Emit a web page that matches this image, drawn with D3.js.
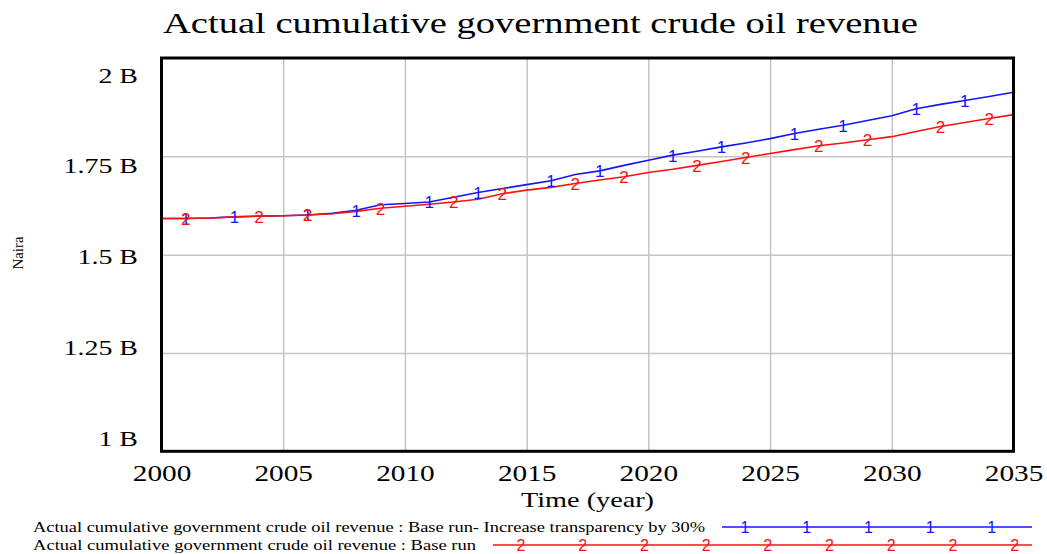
<!DOCTYPE html>
<html>
<head>
<meta charset="utf-8">
<script src="https://cdn.jsdelivr.net/npm/d3@7"></script>
<style>
  body { margin: 0; background: #fff; }
  svg { display: block; }
</style>
</head>
<body>
<svg id="chart" width="1047" height="554"></svg>
<script>
// Simulation years
const years = [2000, 2001, 2002, 2003, 2004, 2005, 2006, 2007, 2008, 2009,
               2010, 2011, 2012, 2013, 2014, 2015, 2016, 2017, 2018, 2019,
               2020, 2021, 2022, 2023, 2024, 2025, 2026, 2027, 2028, 2029,
               2030, 2031, 2032, 2033, 2034, 2035];

// Actual cumulative government crude oil revenue (billion naira)
const transparencyRun = [1.592, 1.592, 1.593, 1.596, 1.598, 1.599, 1.601, 1.605, 1.613, 1.627,
                         1.630, 1.634, 1.646, 1.658, 1.668, 1.678, 1.688, 1.704, 1.713, 1.727,
                         1.740, 1.753, 1.763, 1.774, 1.784, 1.795, 1.808, 1.819, 1.829, 1.841,
                         1.853, 1.871, 1.882, 1.892, 1.902, 1.913];
const baseRun = [1.592, 1.592, 1.593, 1.596, 1.598, 1.599, 1.601, 1.604, 1.610, 1.618,
                 1.623, 1.628, 1.634, 1.641, 1.655, 1.664, 1.671, 1.681, 1.690, 1.698,
                 1.709, 1.717, 1.727, 1.737, 1.747, 1.757, 1.767, 1.777, 1.784, 1.792,
                 1.800, 1.813, 1.826, 1.836, 1.846, 1.856];

// Years where each run carries its number marker
const transparencyMarkerYears = [2001, 2003, 2006, 2008, 2011, 2013, 2016, 2018, 2021, 2023, 2026, 2028, 2031, 2033];
const baseMarkerYears = [2001, 2004, 2006, 2009, 2012, 2014, 2017, 2019, 2022, 2024, 2027, 2029, 2032, 2034];

const xTicks = [2000, 2005, 2010, 2015, 2020, 2025, 2030, 2035];
const yTicks = [1, 1.25, 1.5, 1.75, 2];
const yTickLabels = ["1 B", "1.25 B", "1.5 B", "1.75 B", "2 B"];

const titleText = "Actual cumulative government crude oil revenue";
const xTitle = "Time (year)";
const yTitle = "Naira";
const seriesNames = [
  "Actual cumulative government crude oil revenue : Base run- Increase transparency by 30%",
  "Actual cumulative government crude oil revenue : Base run"
];
const seriesMarks = ["1", "2"];
const seriesColors = ["#1414ff", "#ff1010"];

const serif = "'Liberation Serif', 'Times New Roman', serif";
const sans = "'Liberation Sans', Arial, sans-serif";

const svg = d3.select("#chart");

const plot = { left: 161.5, right: 1013.5, top: 58, bottom: 451.3 };
const x = d3.scaleLinear().domain([2000, 2035]).range([plot.left, plot.right]);
const y = d3.scaleLinear().domain([1, 2]).range([plot.bottom, plot.top]);
// value labels on the left are spread slightly inside the frame
const yLabel = d3.scaleLinear().domain([1, 2]).range([438, 75]);

// widen text horizontally by factor k
function stretch(sel, k) {
  sel.each(function () {
    const w = this.getComputedTextLength();
    d3.select(this).attr("textLength", w * k).attr("lengthAdjust", "spacingAndGlyphs");
  });
}
function fitWidth(sel, w) {
  sel.attr("textLength", w).attr("lengthAdjust", "spacingAndGlyphs");
}

// grid
const gridX = svg.append("g")
  .attr("transform", `translate(0,${plot.bottom})`)
  .call(d3.axisBottom(x).tickValues(xTicks.slice(1, -1)).tickSize(-(plot.bottom - plot.top)).tickFormat(""));
const gridY = svg.append("g")
  .attr("transform", `translate(${plot.left},0)`)
  .call(d3.axisLeft(y).tickValues(yTicks.slice(1, -1)).tickSize(-(plot.right - plot.left)).tickFormat(""));
[gridX, gridY].forEach(g => {
  g.select(".domain").remove();
  g.selectAll("line").attr("stroke", "#c4c4c4").attr("stroke-width", 1.5);
});

// series
const runs = [transparencyRun, baseRun];
const markerYears = [transparencyMarkerYears, baseMarkerYears];
const line = d3.line().x((d, i) => x(years[i])).y(d => y(d));

svg.append("clipPath").attr("id", "plotClip")
  .append("rect")
  .attr("x", plot.left).attr("y", plot.top)
  .attr("width", plot.right - plot.left).attr("height", plot.bottom - plot.top);

const seriesG = svg.append("g").attr("clip-path", "url(#plotClip)");
runs.forEach((vals, s) => {
  seriesG.append("path")
    .datum(vals)
    .attr("fill", "none")
    .attr("stroke", seriesColors[s])
    .attr("stroke-width", 1.6)
    .attr("d", line);
});
runs.forEach((vals, s) => {
  seriesG.selectAll(null)
    .data(markerYears[s])
    .join("text")
    .attr("x", d => x(d))
    .attr("y", d => y(vals[years.indexOf(d)]))
    .attr("dy", "0.38em")
    .attr("text-anchor", "middle")
    .attr("font-family", sans)
    .attr("font-size", 17)
    .attr("fill", seriesColors[s])
    .text(seriesMarks[s]);
});

// frame
svg.append("rect")
  .attr("x", plot.left).attr("y", plot.top)
  .attr("width", plot.right - plot.left).attr("height", plot.bottom - plot.top)
  .attr("fill", "none").attr("stroke", "#000").attr("stroke-width", 3);

// x tick labels
const xAxis = svg.append("g")
  .attr("transform", `translate(0,${plot.bottom})`)
  .call(d3.axisBottom(x).tickValues(xTicks).tickSize(0).tickPadding(13).tickFormat(d3.format("d")));
xAxis.select(".domain").remove();
xAxis.selectAll("text")
  .attr("font-family", serif).attr("font-size", 24).attr("fill", "#000")
  .call(stretch, 1.22);

// y tick labels
const yAxis = svg.append("g")
  .attr("transform", "translate(138,0)")
  .call(d3.axisLeft(yLabel).tickValues(yTicks).tickSize(0).tickPadding(0)
    .tickFormat((d, i) => yTickLabels[i]));
yAxis.select(".domain").remove();
yAxis.selectAll("text")
  .attr("font-family", serif).attr("font-size", 22).attr("fill", "#000")
  .call(stretch, 1.27);

// title
svg.append("text")
  .attr("x", 163).attr("y", 33)
  .attr("font-family", serif).attr("font-size", 30).attr("fill", "#000")
  .text(titleText)
  .call(fitWidth, 755);

// axis titles
svg.append("text")
  .attr("x", (plot.left + plot.right) / 2).attr("y", 507)
  .attr("text-anchor", "middle")
  .attr("font-family", serif).attr("font-size", 22).attr("fill", "#000")
  .text(xTitle)
  .call(fitWidth, 133);

svg.append("text")
  .attr("transform", "translate(18,253) rotate(-90)")
  .attr("text-anchor", "middle").attr("dy", "0.35em")
  .attr("font-family", serif).attr("font-size", 14).attr("fill", "#000")
  .text(yTitle)
  .call(fitWidth, 33);

// legend
const legendRows = [
  { y: 527, textWidth: 672, lineStart: 722, firstMark: 745, marks: 5 },
  { y: 545, textWidth: 443, lineStart: 493, firstMark: 521, marks: 9 }
];
const legendEnd = 1032;
const markGap = 61.7;
legendRows.forEach((row, s) => {
  svg.append("text")
    .attr("x", 33).attr("y", row.y).attr("dy", "0.33em")
    .attr("font-family", serif).attr("font-size", 14).attr("fill", "#000")
    .text(seriesNames[s])
    .call(fitWidth, row.textWidth);
  svg.append("line")
    .attr("x1", row.lineStart).attr("x2", legendEnd)
    .attr("y1", row.y).attr("y2", row.y)
    .attr("stroke", seriesColors[s]).attr("stroke-width", 1.6);
  svg.selectAll(null)
    .data(d3.range(row.marks))
    .join("text")
    .attr("x", i => row.firstMark + i * markGap)
    .attr("y", row.y).attr("dy", "0.38em")
    .attr("text-anchor", "middle")
    .attr("font-family", sans).attr("font-size", 16)
    .attr("fill", seriesColors[s])
    .text(seriesMarks[s]);
});
</script>
</body>
</html>
